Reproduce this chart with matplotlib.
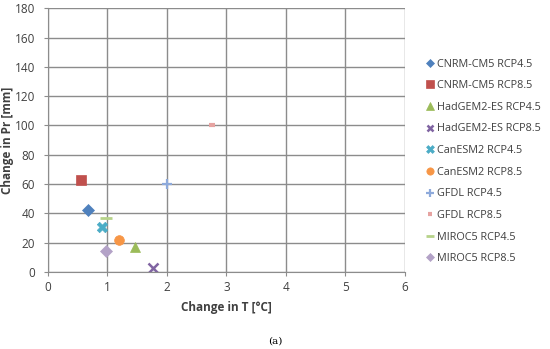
import matplotlib
matplotlib.use("Agg")
import matplotlib.pyplot as plt

labels = ["CNRM-CM5 RCP4.5", "CNRM-CM5 RCP8.5", "HadGEM2-ES RCP4.5", "HadGEM2-ES RCP8.5",
          "CanESM2 RCP4.5", "CanESM2 RCP8.5", "GFDL RCP4.5", "GFDL RCP8.5",
          "MIROC5 RCP4.5", "MIROC5 RCP8.5"]
dT = [0.67, 0.55, 1.46, 1.77, 0.91, 1.19, 2.01, 2.76, 0.97, 0.98]
dPr = [42, 62.5, 17, 2.5, 30.5, 22, 60, 100.5, 36.5, 14.5]

colors = ["#4F81BD", "#C0504D", "#9BBB59", "#8064A2", "#4BACC6", "#F79646",
          "#8EAADB", "#E6A3A1", "#B7D38A", "#B3A2C7"]
markers = ["D", "s", "^", "x", "$\u2716$", "o", "+", "_", "_", "D"]
sizes = [6, 7, 7, 6.5, 7.5, 7, 7, 4, 8, 6]
widths = [0.5, 0.5, 0.5, 1.8, 0.5, 0.5, 1.6, 3, 2, 0.5]

GRID = "#8C8C8C"
TXT = "#404040"

plt.rcParams['font.family'] = ['Open Sans', 'DejaVu Sans']
fig = plt.figure(figsize=(5.5, 3.49), dpi=100)
ax = fig.add_axes([0.087, 0.221, 0.649, 0.755])

for x, y, c, m, s, w, lab in zip(dT, dPr, colors, markers, sizes, widths, labels):
    ax.plot([x], [y], linestyle="none", marker=m, color=c, markersize=s,
            markeredgewidth=w, label=lab)

ax.set_xlim(0, 6)
ax.set_ylim(0, 180)
ax.set_xticks(range(0, 7))
ax.set_yticks(range(0, 181, 20))
ax.grid(True, color=GRID, linewidth=1.0)
ax.set_axisbelow(True)
for sp in ["top", "right"]:
    ax.spines[sp].set_visible(False)
for sp in ["left", "bottom"]:
    ax.spines[sp].set_color(GRID)
ax.tick_params(colors=TXT, labelsize=8.5, length=3, color=GRID)
ax.tick_params(axis="y", pad=6)
ax.set_xlabel("Change in T [°C]", fontsize=8.5, fontweight="bold", color=TXT)
ax.set_ylabel("Change in Pr [mm]", fontsize=8.5, fontweight="bold", color=TXT)
ax.xaxis.set_label_coords(0.5, -0.11)
ax.yaxis.set_label_coords(-0.095, 0.5)

ax.legend(loc="upper left", bbox_to_anchor=(0.7745, 0.832), bbox_transform=fig.transFigure,
          frameon=False, fontsize=7.8, handlelength=0.7, handletextpad=0.3,
          labelspacing=0.98, borderaxespad=0, borderpad=0, markerscale=0.75,
          labelcolor=TXT)

fig.text(0.5, 0.023, "(a)", ha="center", va="center", fontsize=7.5, family="DejaVu Serif")
fig.savefig("out.png", dpi=100, facecolor="white")
